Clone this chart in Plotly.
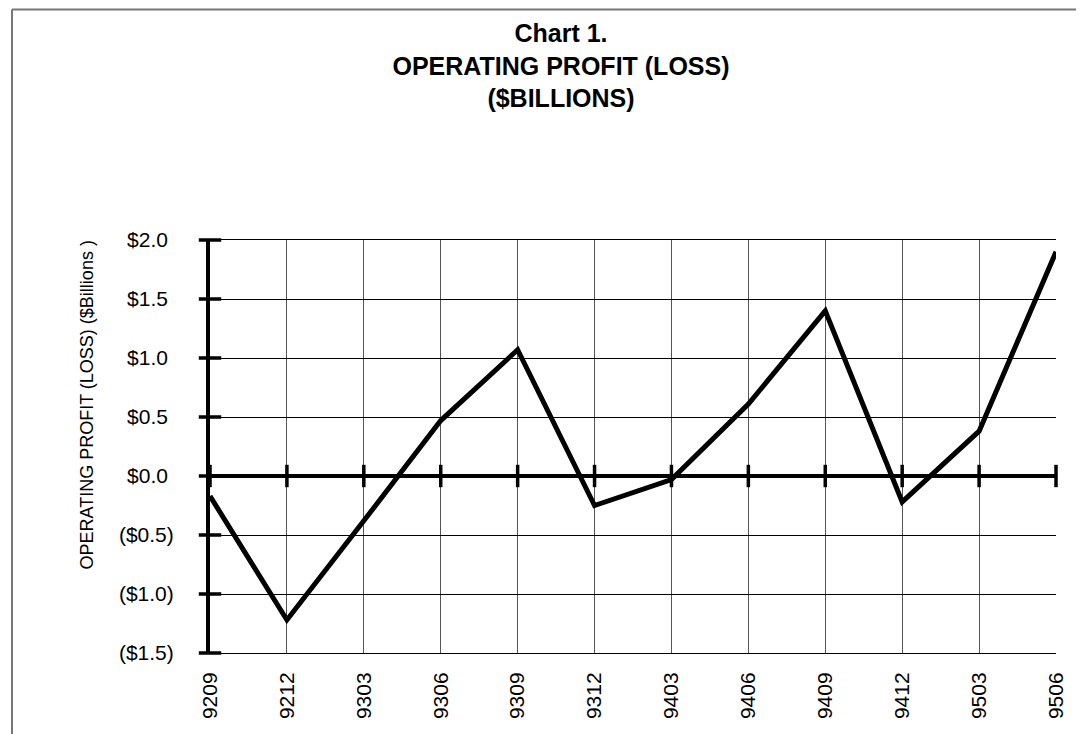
import plotly.graph_objects as go

# ---- data ----
quarters = ["9209", "9212", "9303", "9306", "9309", "9312",
            "9403", "9406", "9409", "9412", "9503", "9506"]
profit = [-0.17, -1.22, -0.38, 0.47, 1.07, -0.25,
          -0.03, 0.61, 1.40, -0.22, 0.38, 1.90]
ytick_vals = [2.0, 1.5, 1.0, 0.5, 0.0, -0.5, -1.0, -1.5]
ytick_text = ["$2.0\u00a0", "$1.5\u00a0", "$1.0\u00a0", "$0.5\u00a0", "$0.0\u00a0",
              "($0.5)", "($1.0)", "($1.5)"]

W, H = 1084, 734
L, R, T, B = 202, 36, 232, 89
PW, PH = W - L - R, H - T - B
FONT = "Liberation Sans, Arial, sans-serif"


def px_x(px):
    return (px - L) / PW


def px_y(py):
    return (H - B - py) / PH


fig = go.Figure()

# main series
fig.add_trace(go.Scatter(
    x=quarters, y=profit, mode="lines",
    line=dict(color="black", width=5),
    hoverinfo="x+y", showlegend=False,
))

# crossing tick marks on the zero line
fig.add_trace(go.Scatter(
    x=quarters, y=[0] * len(quarters), mode="markers",
    marker=dict(symbol="line-ns", size=16, line=dict(color="black", width=3.5)),
    cliponaxis=False, hoverinfo="skip", showlegend=False,
))

# crossing tick marks on the value axis
fig.add_trace(go.Scatter(
    x=[quarters[0]] * len(ytick_vals), y=ytick_vals, mode="markers",
    marker=dict(symbol="line-ew", size=16, line=dict(color="black", width=3.5)),
    cliponaxis=False, hoverinfo="skip", showlegend=False,
))

fig.update_layout(
    width=W, height=H,
    margin=dict(l=L, r=R, t=T, b=B, pad=0),
    paper_bgcolor="white", plot_bgcolor="white",
    font=dict(family=FONT, color="black"),
    title=dict(
        text="Chart 1.<br>OPERATING PROFIT (LOSS)<br>($BILLIONS)",
        font=dict(family=FONT, size=25, color="black", weight="bold"),
        x=553 / W, xanchor="center", xref="container",
        y=1 - 34 / H, yanchor="top", yref="container",
    ),
    xaxis=dict(
        type="category", range=[0, len(quarters) - 1],
        showgrid=True, gridcolor="#555555", gridwidth=1,
        showline=True, linecolor="black", linewidth=1, mirror=True,
        ticks="", tickangle=-90, ticklabelstandoff=10,
        tickfont=dict(family=FONT, size=21, color="black"),
        zeroline=False, fixedrange=True,
    ),
    yaxis=dict(
        range=[-1.5, 2.0], tickvals=ytick_vals, ticktext=ytick_text,
        showgrid=True, gridcolor="black", gridwidth=1,
        showline=True, linecolor="black", linewidth=4,
        zeroline=True, zerolinecolor="black", zerolinewidth=4,
        ticks="", ticklabelstandoff=28,
        tickfont=dict(family=FONT, size=21, color="black"),
        fixedrange=True,
    ),
    annotations=[dict(
        text="OPERATING PROFIT (LOSS) ($Billions )",
        textangle=-90, showarrow=False,
        xref="paper", yref="paper",
        x=px_x(78), y=px_y(397.5), xanchor="center", yanchor="middle",
        font=dict(family=FONT, size=18, color="black"),
    )],
    shapes=[
        dict(type="line", xref="paper", yref="paper",
             x0=px_x(4), x1=px_x(W + 2), y0=px_y(1.5), y1=px_y(1.5),
             line=dict(color="#777777", width=2)),
        dict(type="line", xref="paper", yref="paper",
             x0=px_x(4), x1=px_x(4), y0=px_y(1.5), y1=px_y(H + 2),
             line=dict(color="#777777", width=2)),
    ],
)

fig.write_html("out.html")
